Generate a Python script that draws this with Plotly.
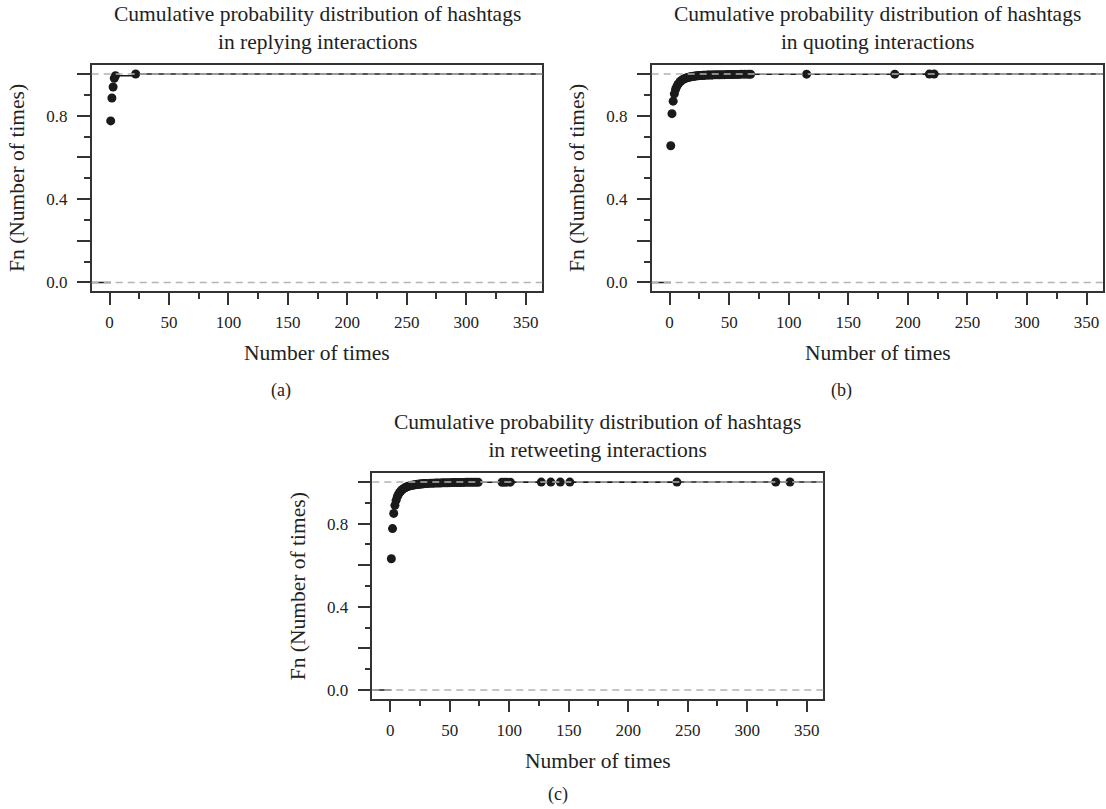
import plotly.graph_objects as go

# ---------------- data ----------------
a_x = [1, 2, 3, 4, 5, 22]
a_y = [0.775, 0.885, 0.938, 0.980, 0.992, 1.0]

b_x = [1, 2, 3, 4, 5, 6, 7, 8, 9, 10, 11, 12, 13, 14, 15, 16, 17, 18, 19, 20,
       21, 22, 23, 24, 25, 26, 27, 28, 29, 30, 32, 33, 35, 36, 38, 40, 42, 44,
       46, 48, 50, 52, 54, 56, 58, 60, 63, 66, 68, 115, 189, 218, 222]
b_y = [0.656, 0.810, 0.870, 0.905, 0.926, 0.940, 0.950, 0.958, 0.964, 0.969,
       0.973, 0.976, 0.979, 0.981, 0.983, 0.985, 0.986, 0.987, 0.988, 0.989,
       0.990, 0.991, 0.9915, 0.992, 0.9925, 0.993, 0.9935, 0.994, 0.9943, 0.9946,
       0.995, 0.9953, 0.9956, 0.9959, 0.9962, 0.9965, 0.9968, 0.997, 0.9972,
       0.9974, 0.9976, 0.9978, 0.998, 0.9982, 0.9984, 0.9986, 0.9988, 0.999,
       0.9992, 0.9994, 0.9996, 0.9998, 1.0]

c_x = [1, 2, 3, 4, 5, 6, 7, 8, 9, 10, 11, 12, 13, 14, 15, 16, 17, 18, 19, 20,
       21, 22, 23, 24, 25, 26, 27, 28, 29, 30, 32, 34, 36, 38, 40, 42, 44, 46,
       48, 50, 52, 54, 56, 58, 60, 62, 64, 66, 68, 70, 72, 74,
       94, 96, 98, 101, 127, 135, 143, 151, 241, 324, 336]
c_y = [0.631, 0.776, 0.849, 0.888, 0.912, 0.929, 0.941, 0.950, 0.957, 0.963,
       0.967, 0.971, 0.974, 0.977, 0.979, 0.981, 0.983, 0.984, 0.985, 0.986,
       0.987, 0.988, 0.9888, 0.9895, 0.990, 0.9907, 0.9913, 0.992, 0.9925, 0.993,
       0.9935, 0.994, 0.9944, 0.9948, 0.9952, 0.9956, 0.996, 0.9963, 0.9966,
       0.9969, 0.9972, 0.9974, 0.9976, 0.9978, 0.998, 0.9982, 0.9984, 0.9986,
       0.9988, 0.9989, 0.999, 0.9991,
       0.9992, 0.9993, 0.9994, 0.9995, 0.9996, 0.99965, 0.9997, 0.99975,
       0.9998, 0.9999, 1.0]

titles = ["Cumulative probability distribution of hashtags<br>in replying interactions",
          "Cumulative probability distribution of hashtags<br>in quoting interactions",
          "Cumulative probability distribution of hashtags<br>in retweeting interactions"]
panel_labels = ["(a)", "(b)", "(c)"]
x_title = "Number of times"
y_title = "Fn (Number of times)"

x_ticks = [0, 50, 100, 150, 200, 250, 300, 350]
y_ticks = [0.0, 0.2, 0.4, 0.6, 0.8, 1.0]
y_ticktext = ["0.0", "", "0.4", "", "0.8", ""]
y_minor = [0.1, 0.3, 0.5, 0.7, 0.9]

# ---------------- layout geometry ----------------
W, H = 1106, 809
XR = [-15, 364]
YR = [-0.042, 1.042]
# plot boxes in pixels: (left, right, top, bottom)
boxes = [(91.7, 542.3, 65.3, 291.2),
         (651.7, 1103.3, 65.3, 291.2),
         (372.3, 823.3, 473.3, 698.7)]
# caption centres (pixels): (x, y)
captions = [(281, 390), (841, 390), (558, 794)]

FONT = "Liberation Serif"
INK = "#222222"
AX = "#333333"

fig = go.Figure()
datasets = [(a_x, a_y), (b_x, b_y), (c_x, c_y)]

for i, (xs, ys) in enumerate(datasets):
    sfx = "" if i == 0 else str(i + 1)
    xa, ya = "x" + sfx, "y" + sfx
    # horizontal step segments of the ECDF
    sx, sy = [XR[0], xs[0], None], [0, 0, None]
    for k in range(len(xs)):
        nxt = xs[k + 1] if k + 1 < len(xs) else XR[1]
        sx += [xs[k], nxt, None]
        sy += [ys[k], ys[k], None]
    fig.add_trace(go.Scatter(x=sx, y=sy, mode="lines", xaxis=xa, yaxis=ya,
                             line=dict(color="#1a1a1a", width=1.6),
                             showlegend=False, hoverinfo="skip"))
    fig.add_trace(go.Scatter(x=xs, y=ys, mode="markers", xaxis=xa, yaxis=ya,
                             marker=dict(color="#1a1a1a", size=9),
                             showlegend=False))
    # gray dashed 0/1 reference lines
    for yv in (0, 1):
        fig.add_shape(type="line", xref=xa + " domain", yref=ya,
                      x0=0, x1=1, y0=yv, y1=yv, layer="above",
                      line=dict(color="#b3b3b3", width=1.5, dash="7px,5px"))

    l, r, t, b = boxes[i]
    xdom = [l / W, r / W]
    ydom = [1 - b / H, 1 - t / H]
    common = dict(showline=True, mirror=True, linecolor=AX, linewidth=1.5,
                  ticks="outside", tickcolor=AX, tickwidth=1.5,
                  showgrid=False, zeroline=False,
                  tickfont=dict(family=FONT, size=17, color=INK))
    fig.update_layout(**{
        "xaxis" + sfx: dict(domain=xdom, range=XR, anchor=ya, ticklen=12,
                            tickmode="array", tickvals=x_ticks, ticklabelstandoff=3,
                            minor=dict(tick0=0, dtick=25, ticks="outside",
                                       ticklen=6, tickcolor=AX, tickwidth=1.5),
                            **common),
        "yaxis" + sfx: dict(domain=ydom, range=YR, anchor=xa, ticklen=13,
                            tickmode="array", tickvals=y_ticks, ticktext=y_ticktext,
                            ticklabelstandoff=6,
                            minor=dict(tickmode="array", tickvals=y_minor, ticks="outside",
                                       ticklen=6, tickcolor=AX, tickwidth=1.5),
                            **common),
    })

    cx = (l + r) / 2 / W
    cy = (t + b) / 2
    fig.add_annotation(text=titles[i], x=cx, y=1 - (t - 37) / H, xref="paper", yref="paper",
                       showarrow=False, xanchor="center", yanchor="middle",
                       font=dict(family=FONT, size=21.5, color=INK))
    fig.add_annotation(text=x_title, x=cx, y=1 - (b + 62) / H, xref="paper", yref="paper",
                       showarrow=False, xanchor="center", yanchor="middle",
                       font=dict(family=FONT, size=21.5, color=INK))
    fig.add_annotation(text=y_title, x=(l - 74) / W, y=1 - cy / H, xref="paper", yref="paper",
                       showarrow=False, xanchor="center", yanchor="middle", textangle=-90,
                       font=dict(family=FONT, size=21.5, color=INK))
    px, py = captions[i]
    fig.add_annotation(text=panel_labels[i], x=px / W, y=1 - py / H, xref="paper", yref="paper",
                       showarrow=False, xanchor="center", yanchor="middle",
                       font=dict(family=FONT, size=18, color=INK))

fig.update_layout(width=W, height=H, margin=dict(l=0, r=0, t=0, b=0),
                  paper_bgcolor="white", plot_bgcolor="white", showlegend=False)

fig.write_html("out.html")
